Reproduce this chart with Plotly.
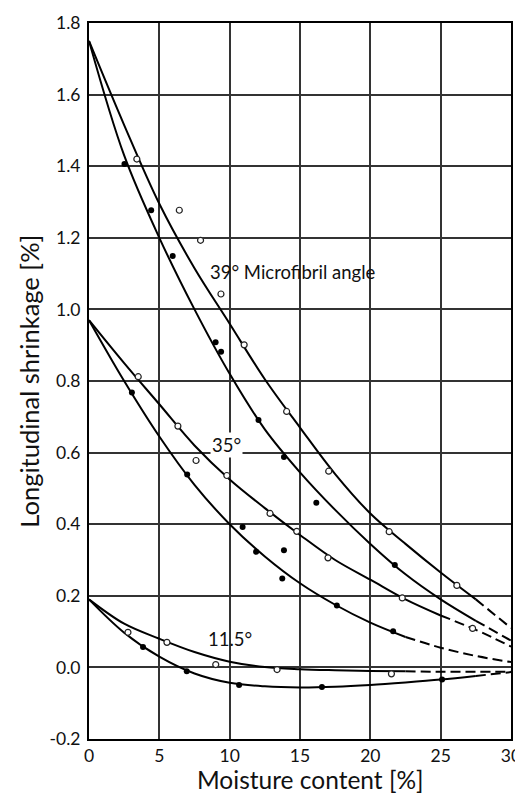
import plotly.graph_objects as go

# ---- data ----
curve_x = [0, 2.5, 5, 7.5, 10, 12.5, 15, 17.5, 20, 22.5, 25, 27.5, 30]
fit_39_upper = [1.75, 1.515, 1.295, 1.115, 0.96, 0.805, 0.67, 0.54, 0.43, 0.345, 0.265, 0.19, 0.11]
fit_39_lower = [1.75, 1.43, 1.20, 1.00, 0.82, 0.665, 0.545, 0.44, 0.345, 0.26, 0.19, 0.13, 0.075]
fit_35_upper = [0.97, 0.85, 0.735, 0.62, 0.525, 0.445, 0.37, 0.30, 0.245, 0.19, 0.145, 0.105, 0.058]
fit_35_lower = [0.97, 0.80, 0.645, 0.51, 0.40, 0.31, 0.235, 0.175, 0.125, 0.085, 0.055, 0.032, 0.015]
fit_115_upper = [0.19, 0.122, 0.08, 0.043, 0.016, 0.001, -0.005, -0.008, -0.01, -0.011, -0.012, -0.012, -0.012]
fit_115_lower = [0.19, 0.097, 0.03, -0.017, -0.043, -0.053, -0.056, -0.054, -0.049, -0.042, -0.034, -0.024, -0.013]

# x at which each fitted curve turns dashed
dash_from = {"39u": 27.5, "39l": 27.5, "35u": 25, "35l": 22.5, "115u": 22.5, "115l": 27.5}

open_39_x = [3.4, 6.42, 7.93, 9.38, 11.03, 14.05, 17.04, 21.34, 26.15]
open_39_y = [1.42, 1.277, 1.193, 1.043, 0.901, 0.715, 0.548, 0.379, 0.229]
filled_39_x = [2.52, 4.42, 5.95, 9.0, 9.39, 12.05, 13.86, 16.16, 21.74]
filled_39_y = [1.406, 1.277, 1.149, 0.908, 0.882, 0.691, 0.588, 0.46, 0.286]

open_35_x = [3.5, 6.32, 7.61, 9.8, 12.87, 14.77, 16.99, 22.27, 27.27]
open_35_y = [0.812, 0.674, 0.578, 0.536, 0.43, 0.38, 0.306, 0.194, 0.109]
filled_35_x = [3.05, 6.98, 10.92, 11.88, 13.86, 13.74, 17.62, 21.62]
filled_35_y = [0.768, 0.539, 0.392, 0.323, 0.327, 0.248, 0.173, 0.101]

open_115_x = [2.77, 5.54, 9.01, 13.37, 21.5]
open_115_y = [0.098, 0.07, 0.008, -0.006, -0.018]
filled_115_x = [3.84, 6.95, 10.67, 16.56, 25.1]
filled_115_y = [0.057, -0.011, -0.049, -0.055, -0.034]

x_ticks = [0, 5, 10, 15, 20, 25, 30]
y_ticks = [-0.2, 0.0, 0.2, 0.4, 0.6, 0.8, 1.0, 1.2, 1.4, 1.6, 1.8]
y_tick_text = ["-0.2", "0.0", "0.2", "0.4", "0.6", "0.8", "1.0", "1.2", "1.4", "1.6", "1.8"]

x_title = "Moisture content [%]"
y_title = "Longitudinal shrinkage [%]"

labels = [
    ("39° Microfibril angle", 8.45, 1.105, False),
    ("35°", 8.6, 0.62, True),
    ("11.5°", 8.35, 0.078, False),
]

FONT = "Lato"

fig = go.Figure()

def add_curve(ys, key):
    xd = dash_from[key]
    i = curve_x.index(xd)
    fig.add_trace(go.Scatter(x=curve_x[:i + 1], y=ys[:i + 1], mode="lines",
                             line=dict(color="black", width=2, shape="spline", smoothing=1.0),
                             showlegend=False, hoverinfo="skip"))
    fig.add_trace(go.Scatter(x=curve_x[i:], y=ys[i:], mode="lines",
                             line=dict(color="black", width=2, shape="spline", smoothing=1.0,
                                       dash="10px,5px"),
                             showlegend=False, hoverinfo="skip"))

add_curve(fit_39_upper, "39u")
add_curve(fit_39_lower, "39l")
add_curve(fit_35_upper, "35u")
add_curve(fit_35_lower, "35l")
add_curve(fit_115_upper, "115u")
add_curve(fit_115_lower, "115l")

for xs, ys in [(open_39_x, open_39_y), (open_35_x, open_35_y), (open_115_x, open_115_y)]:
    fig.add_trace(go.Scatter(x=xs, y=ys, mode="markers",
                             marker=dict(size=6, color="white", line=dict(color="#222", width=1.2)),
                             showlegend=False))
for xs, ys in [(filled_39_x, filled_39_y), (filled_35_x, filled_35_y), (filled_115_x, filled_115_y)]:
    fig.add_trace(go.Scatter(x=xs, y=ys, mode="markers",
                             marker=dict(size=6, color="black", line=dict(color="black", width=0)),
                             showlegend=False))

for text, lx, ly, bg in labels:
    fig.add_annotation(x=lx, y=ly, text=text, showarrow=False, xanchor="left", yanchor="middle",
                       font=dict(family=FONT, size=18.5, color="#111"),
                       bgcolor="white" if bg else "rgba(0,0,0,0)", borderpad=1)

# axis titles as paper-anchored annotations (exact placement)
fig.add_annotation(text=x_title, xref="paper", yref="paper", x=0.526, y=-0.0559,
                   xanchor="center", yanchor="middle", showarrow=False,
                   font=dict(family=FONT, size=24.5, color="#111"))
fig.add_annotation(text=y_title, xref="paper", yref="paper", x=-0.143, y=0.50,
                   xanchor="center", yanchor="middle", showarrow=False, textangle=-90,
                   font=dict(family=FONT, size=25.5, color="#111"))

axis_common = dict(showgrid=True, gridcolor="#333", gridwidth=1.5, zeroline=False,
                   showline=True, linecolor="black", linewidth=2, mirror=True, automargin=False,
                   ticks="", ticklabeloverflow="allow",
                   tickfont=dict(family=FONT, size=17.5, color="#111"))

fig.update_xaxes(range=[0, 30], tickvals=x_ticks, ticklabelstandoff=0, **axis_common)
fig.update_yaxes(range=[-0.2, 1.8], tickvals=y_ticks, ticktext=y_tick_text,
                 ticklabelstandoff=3, **axis_common)

# the page body adds an 8px margin, so the figure is offset by 8px
fig.update_layout(width=515, height=788, plot_bgcolor="white", paper_bgcolor="white",
                  margin=dict(l=81, r=12, t=15, b=57), showlegend=False)

fig.write_html("out.html")
